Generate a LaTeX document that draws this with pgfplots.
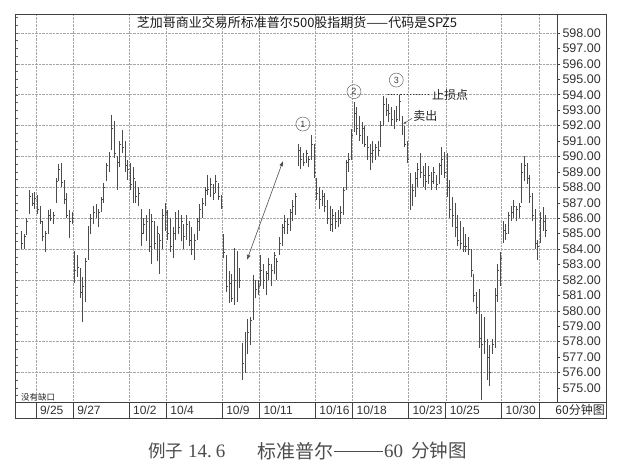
\documentclass[border=0pt]{standalone}
\usepackage{fontspec}
\setmainfont{Liberation Sans}
\newfontfamily\cjk{Noto Sans CJK SC}
\newfontfamily\serifdig{Liberation Serif}
\usepackage{pgfplots}
\usepackage{pgfplotstable}
\pgfplotsset{compat=1.18}
\usetikzlibrary{arrows.meta}

% 60-minute bars: bar index, high, low, close
\pgfplotstableread{
i h l c
1 585.2 584.0 584.4
2 585.0 584.0 584.8
3 586.0 584.9 585.8
4 587.8 586.3 587.4
5 587.6 586.8 587.0
6 587.7 586.6 587.3
7 587.5 586.3 586.6
8 586.8 585.6 585.8
9 585.8 584.5 584.8
10 585.2 583.8 585.0
11 586.5 585.0 586.2
12 586.6 585.8 586.0
13 586.4 585.6 586.2
14 588.6 587.0 588.4
15 589.5 588.4 589.2
16 589.6 588.0 588.3
17 588.5 586.9 587.2
18 587.6 586.0 586.2
19 586.5 584.7 585.8
20 586.4 585.6 586.0
21 583.9 581.8 582.6
22 583.6 582.2 582.8
23 582.8 580.8 581.2
24 582.2 579.3 581.6
25 583.4 580.6 583.2
26 585.5 583.3 585.2
27 586.3 585.0 586.0
28 586.8 585.6 586.4
29 586.9 586.0 586.2
30 586.6 585.4 586.4
31 587.4 586.4 587.2
32 588.3 587.0 588.0
33 589.6 588.4 589.4
34 590.3 589.0 590.0
35 592.7 590.4 591.8
36 592.3 589.9 590.2
37 590.0 587.8 589.6
38 591.0 589.3 590.8
39 591.7 590.2 590.6
40 591.0 589.0 589.4
41 589.8 588.5 589.2
42 589.6 587.8 588.2
43 589.3 587.0 588.6
44 588.4 587.0 587.4
45 588.0 586.8 587.6
46 586.6 584.2 585.0
47 586.0 585.0 585.6
48 586.2 584.5 585.8
49 586.6 583.8 584.2
50 586.3 583.0 585.8
51 585.8 584.0 584.4
52 585.5 583.2 585.0
53 585.0 582.4 584.6
54 586.6 584.0 586.2
55 587.0 585.2 586.4
56 586.5 584.6 585.0
57 586.0 583.8 584.2
58 585.4 583.4 585.0
59 586.4 584.6 586.0
60 586.5 585.0 585.4
61 586.2 584.5 585.8
62 585.6 584.0 584.8
63 586.2 584.6 585.6
64 585.8 584.2 584.6
65 585.4 583.6 584.0
66 585.0 583.3 584.6
67 586.0 584.6 585.8
68 586.9 585.2 586.6
69 587.3 586.0 587.0
70 588.0 586.8 587.8
71 588.8 587.5 587.9
72 588.6 587.4 588.2
73 588.2 587.2 587.6
74 588.8 587.6 588.4
75 588.3 587.2 587.4
76 587.5 586.6 586.8
77 585.0 583.4 583.8
78 583.6 581.2 581.6
79 582.6 580.5 581.8
80 582.4 580.6 580.8
81 584.1 580.4 582.0
82 583.9 580.6 582.6
83 582.8 581.5 582.0
84 577.9 575.5 576.6
85 578.6 576.0 577.8
86 579.5 577.2 578.6
87 579.6 577.8 579.4
88 582.3 579.4 581.8
89 582.0 580.8 581.4
90 582.0 581.0 581.6
91 583.6 581.6 582.6
92 583.0 581.4 582.0
93 582.6 581.0 582.4
94 583.4 582.0 583.0
95 583.0 581.6 582.6
96 583.8 582.4 583.6
97 583.4 582.0 583.2
98 584.8 583.6 584.4
99 585.6 584.2 585.4
100 586.2 585.0 585.8
101 586.0 585.0 585.6
102 586.6 585.2 586.4
103 587.2 585.8 586.8
104 587.6 586.2 587.4
105 590.8 589.4 590.4
106 590.6 589.2 589.8
107 590.2 589.4 589.6
108 590.4 589.6 590.2
109 590.0 589.3 589.8
110 591.4 589.8 590.8
111 590.8 588.6 589.0
112 588.6 587.2 587.6
113 588.0 586.6 587.2
114 587.8 586.8 587.4
115 587.6 586.4 586.8
116 587.2 585.6 586.0
117 586.8 585.2 585.6
118 586.6 585.1 586.2
119 586.4 585.3 585.8
120 586.5 585.4 586.0
121 586.8 585.6 586.4
122 588.0 586.2 587.8
123 589.8 587.8 589.6
124 590.2 589.0 589.8
125 591.8 589.8 591.4
126 593.5 591.6 592.8
127 593.2 591.4 591.8
128 592.6 591.0 591.4
129 592.2 590.8 591.8
130 592.0 590.6 590.8
131 591.3 589.8 590.6
132 590.8 589.1 590.2
133 591.0 589.6 590.4
134 590.8 589.8 590.6
135 591.0 590.0 590.4
136 592.3 590.6 592.0
137 593.9 592.0 593.4
138 593.8 592.6 593.0
139 593.4 592.2 592.8
140 593.2 592.0 592.4
141 593.0 591.8 592.6
142 593.3 592.2 592.4
143 594.0 592.3 593.6
144 592.6 591.4 591.8
145 592.0 590.6 590.8
146 591.0 589.6 589.8
147 588.9 586.5 587.4
148 588.2 586.8 587.8
149 589.0 587.4 588.6
150 589.6 588.0 589.2
151 590.2 588.6 589.0
152 589.4 588.0 588.8
153 589.6 587.8 588.4
154 589.4 588.2 588.8
155 589.0 587.8 588.4
156 589.3 588.2 589.0
157 588.8 587.8 588.2
158 589.6 588.2 589.4
159 590.6 588.8 589.8
160 590.3 588.6 589.0
161 590.2 587.4 588.0
162 588.5 586.0 586.6
163 587.4 585.4 586.2
164 587.0 584.8 585.4
165 586.2 584.2 584.6
166 585.8 584.0 584.4
167 585.4 583.8 584.2
168 585.0 583.8 584.2
169 584.8 583.6 584.0
170 584.0 582.2 582.6
171 582.4 580.6 581.0
172 581.2 579.8 580.2
173 581.4 577.6 578.2
174 579.8 574.2 577.8
175 579.6 577.2 578.0
176 578.2 575.5 577.0
177 577.8 575.1 576.0
178 578.2 577.2 577.8
179 581.5 577.6 581.0
180 583.0 580.6 582.6
181 583.8 581.6 583.4
182 585.8 584.4 585.2
183 585.6 584.6 585.0
184 586.4 585.0 586.2
185 586.8 585.8 586.4
186 587.2 586.0 586.8
187 586.8 585.8 586.6
188 587.0 586.0 586.8
189 589.6 587.0 589.0
190 590.0 588.4 589.4
191 589.6 588.2 588.6
192 588.8 587.0 587.4
193 587.6 585.8 586.2
194 586.6 584.0 584.4
195 584.6 583.3 584.2
196 586.4 584.4 586.0
197 586.7 585.2 585.8
198 586.2 584.8 585.2
}\bars

\begin{document}
\begin{tikzpicture}[x=1pt,y=1pt]
\path[use as bounding box] (0,0) rectangle (626,466);
\begin{axis}[
    at={(15pt,64pt)}, anchor=south west,
    scale only axis, width=542pt, height=388pt,
    xmin=-1.39, xmax=202.3, ymin=574.09, ymax=599.23,
    clip=false,
    axis line style={black!75, line width=0.6pt},
    xtick={6.5,20.5,41.5,55.5,76.5,90.5,111.5,125.5,146.5,160.5,181.5,195.5},
    xticklabels={9/25,9/27,10/2,10/4,10/9,10/11,10/16,10/18,10/23,10/25,10/30,{}},
    xtick pos=bottom,
    xtick style={draw=none},
    xticklabel style={anchor=west, xshift=0.5pt, yshift=-5pt, font=\fontsize{12}{13}\selectfont, text=black!80},
    ytick={576,578,...,598},
    extra y ticks={575,577,...,597},
    extra y tick style={grid=none},
    ytick pos=right, yticklabel pos=right,
    tick align=outside, major tick length=3pt,
    ytick style={black!75, line width=0.5pt},
    yticklabel style={font=\fontsize{12.5}{13}\selectfont, text=black!80, xshift=-1pt},
    /pgf/number format/.cd, fixed, fixed zerofill, precision=2, assume math mode=true,
    /pgfplots/.cd,
    xmajorgrids, ymajorgrids,
    grid style={black!35, densely dotted, line width=0.5pt},
]
% high-low range of each bar
\addplot[draw=none, mark=none,
    error bars/.cd, y dir=plus, y explicit, error mark=none,
    error bar style={draw=black!70, line width=0.7pt, solid}]
    table[x=i, y=l, y error plus expr=\thisrow{h}-\thisrow{l}] {\bars};
% close ticks
\addplot[draw=none, mark=-, mark size=0.8pt,
    mark options={draw=black!70, line width=0.5pt, xshift=0.8pt}]
    table[x=i, y=c] {\bars};

% small ticks on the left border
\pgfplotsinvokeforeach{574.5,575,...,599}{
  \draw[black!60, line width=0.4pt] (axis cs:-1.39,#1) -- ++(3pt,0pt);
}
% date row separators
\pgfplotsinvokeforeach{6.5,20.5,41.5,55.5,76.5,90.5,111.5,125.5,146.5,160.5,181.5,195.5}{
  \draw[black!75, line width=0.6pt] (axis cs:#1,574.09) -- ++(0pt,-16pt);
}

% annotations
\draw[black!70, line width=0.6pt, {Latex[length=5pt,width=4pt]}-{Latex[length=5pt,width=4pt]}]
    (axis cs:85.8,583.3) -- (axis cs:99.3,589.7);
\node[circle, draw=black!60, line width=0.5pt, minimum size=14pt, inner sep=0pt,
    font=\fontsize{9}{9}\selectfont, text=black!75] at (axis cs:106.8,592.1) {1};
\node[circle, draw=black!60, line width=0.5pt, minimum size=14pt, inner sep=0pt,
    font=\fontsize{9}{9}\selectfont, text=black!75] at (axis cs:126.0,594.2) {2};
\node[circle, draw=black!60, line width=0.5pt, minimum size=14pt, inner sep=0pt,
    font=\fontsize{9}{9}\selectfont, text=black!75] at (axis cs:141.9,594.95) {3};
\draw[black!80, line width=1.1pt, dotted] (axis cs:138.8,594) -- (axis cs:154.6,594);
\node[anchor=west, inner sep=0pt, font=\cjk\fontsize{12}{12}\selectfont, text=black!85]
    at (axis cs:155.3,594) {止损点};
\node[anchor=west, inner sep=0pt, font=\cjk\fontsize{12}{12}\selectfont, text=black!85]
    at (axis cs:148.2,592.62) {卖出};
\draw[black!70, line width=0.5pt, -{Latex[length=3pt,width=2.5pt]}]
    (axis cs:147.8,592.47) -- (axis cs:144.5,592.1);
\end{axis}

% frame, date row and texts
\draw[black!75, line width=0.6pt] (15,48) rectangle (606,452);
\draw[black!75, line width=0.6pt] (557,64) -- (606,64);
\node[anchor=east, inner sep=0pt, font=\cjk\fontsize{12}{12}\selectfont, text=black!85]
    at (605,56) {60分钟图};
\node[anchor=west, inner sep=0pt, font=\cjk\fontsize{8.5}{9}\selectfont, text=black!85]
    at (21,69) {没有缺口};
\node[inner sep=0pt, font=\cjk\fontsize{13}{13}\selectfont, text=black!90]
    at (297,443) {芝加哥商业交易所标准普尔500股指期货——代码是SPZ5};
% caption
\begin{scope}[every node/.style={anchor=west, inner sep=0pt, text=black!70}]
\node[font=\cjk\fontsize{17.5}{18}\selectfont] at (148,15) {例子};
\node[font=\serifdig\fontsize{19}{19}\selectfont] at (188,15) {14.\hspace{4pt}6};
\node[font=\cjk\fontsize{19}{19}\selectfont] at (257,15) {标准普尔};
\draw[black!70, line width=0.7pt] (334,15) -- (383,15);
\node[font=\serifdig\fontsize{19}{19}\selectfont] at (384,15) {60};
\node[font=\cjk\fontsize{18.5}{19}\selectfont] at (411,15) {分钟图};
\end{scope}
\end{tikzpicture}
\end{document}
